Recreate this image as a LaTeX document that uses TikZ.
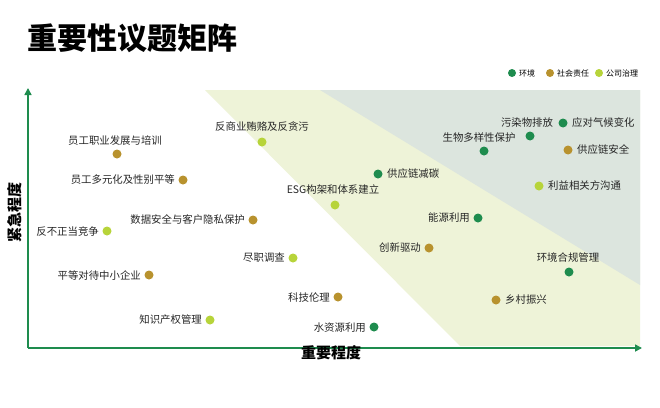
\documentclass[tikz,border=0pt]{standalone}
\usepackage{fontspec}
\setmainfont{Noto Sans CJK SC}
\usetikzlibrary{arrows.meta}
\definecolor{envc}{HTML}{1E8C4E}
\definecolor{socc}{HTML}{B8922E}
\definecolor{govc}{HTML}{B7D43A}
\definecolor{bandc}{HTML}{EEF3D8}
\definecolor{grayc}{HTML}{DCE5DE}
\definecolor{axc}{HTML}{1E8C4E}
\begin{document}
\begin{tikzpicture}[x=1pt,y=-1pt,
  lbl/.style={font=\fontsize{10.4}{12}\selectfont, text=black!85, inner sep=1pt},
  dotenv/.style={circle,fill=envc,minimum size=9pt,inner sep=0pt},
  dotsoc/.style={circle,fill=socc,minimum size=9pt,inner sep=0pt},
  dotgov/.style={circle,fill=govc,minimum size=9pt,inner sep=0pt},
  legdot/.style={circle,minimum size=8pt,inner sep=0pt},
  leg/.style={font=\fontsize{8}{9}\selectfont,inner sep=1pt,anchor=west}]
\useasboundingbox[fill=white] (0,0) rectangle (660,407);
\fill[bandc] (205,90)--(640,90)--(640,346)--(460,346)--cycle;
\fill[grayc] (320,90)--(640,90)--(640,285)--cycle;
\node[anchor=west,font=\fontsize{30}{34}\selectfont\bfseries,inner sep=0pt] (title) at (27,38) {重要性议题矩阵};
% axes
\coordinate (o) at (28,348);
\coordinate (ytop) at (28,88);
\coordinate (xend) at (642,348);
\draw[axc,line width=1.6pt,-{Triangle[length=7pt,width=7pt]}] (o) -- (ytop);
\draw[axc,line width=1.6pt,-{Triangle[length=7pt,width=7pt]}] (o) -- (xend);
\node[rotate=90,font=\fontsize{15}{17}\selectfont\bfseries] (yl) at (15,212) {紧急程度};
\node[font=\fontsize{15}{17}\selectfont\bfseries] (xl) at (331,353) {重要程度};
% legend
\node[legdot,fill=envc] (l1) at (512,73) {}; \node[leg] (l1t) at (518,73) {环境};
\node[legdot,fill=socc] (l2) at (550,73) {}; \node[leg] (l2t) at (556,73) {社会责任};
\node[legdot,fill=govc] (l3) at (599,73) {}; \node[leg] (l3t) at (605,73) {公司治理};
% items
\node[dotsoc] (d1) at (117,154) {}; \node[lbl] (t1) at (115,141) {员工职业发展与培训};
\node[dotgov] (d2) at (262,142) {}; \node[lbl] (t2) at (262,127) {反商业贿赂及反贪污};
\node[dotsoc] (d3) at (183,180) {}; \node[lbl,anchor=east] (t3) at (176,180) {员工多元化及性别平等};
\node[dotsoc] (d4) at (253,220) {}; \node[lbl,anchor=east] (t4) at (246,220) {数据安全与客户隐私保护};
\node[dotgov] (d5) at (107,231) {}; \node[lbl,anchor=east] (t5) at (100,232) {反不正当竞争};
\node[dotsoc] (d6) at (149,275) {}; \node[lbl,anchor=east] (t6) at (142,275) {平等对待中小企业};
\node[dotgov] (d7) at (293,258) {}; \node[lbl,anchor=east] (t7) at (286,258) {尽职调查};
\node[dotsoc] (d8) at (338,297) {}; \node[lbl,anchor=east] (t8) at (331,298) {科技伦理};
\node[dotgov] (d9) at (210,320) {}; \node[lbl,anchor=east] (t9) at (203,320) {知识产权管理};
\node[dotenv] (d10) at (374,327) {}; \node[lbl,anchor=east] (t10) at (367,328) {水资源利用};
\node[dotgov] (d11) at (335,205) {}; \node[lbl] (t11) at (333,190) {ESG构架和体系建立};
\node[dotenv] (d12) at (378,174) {}; \node[lbl,anchor=west] (t12) at (386,174) {供应链减碳};
\node[dotenv] (d13) at (478,218) {}; \node[lbl,anchor=east] (t13) at (471,218) {能源利用};
\node[dotsoc] (d14) at (429,248) {}; \node[lbl,anchor=east] (t14) at (422,248) {创新驱动};
\node[dotenv] (d15) at (530,136) {}; \node[lbl] (t15) at (527,123) {污染物排放};
\node[dotenv] (d16) at (484,151) {}; \node[lbl] (t16) at (479,138) {生物多样性保护};
\node[dotenv] (d17) at (563,123) {}; \node[lbl,anchor=west] (t17) at (571,123) {应对气候变化};
\node[dotsoc] (d18) at (568,150) {}; \node[lbl,anchor=west] (t18) at (576,150) {供应链安全};
\node[dotgov] (d19) at (539,186) {}; \node[lbl,anchor=west] (t19) at (547,186) {利益相关方沟通};
\node[dotenv] (d20) at (569,272) {}; \node[lbl] (t20) at (568,258) {环境合规管理};
\node[dotsoc] (d21) at (496,300) {}; \node[lbl,anchor=west] (t21) at (504,300) {乡村振兴};
\end{tikzpicture}
\end{document}
